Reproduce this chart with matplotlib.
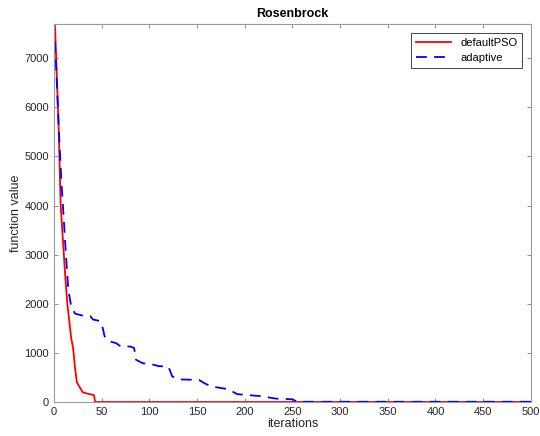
import numpy as np
import matplotlib
matplotlib.use('Agg')
import matplotlib.pyplot as plt

plt.rcParams['font.family'] = ['Liberation Sans', 'DejaVu Sans']

# defaultPSO
iter_pso = [1, 3, 5, 7, 10, 12, 14, 16, 18, 20, 22, 24, 27, 30, 35, 40, 42, 43, 500]
val_pso = [7690, 6600, 5500, 4000, 3100, 2500, 2000, 1650, 1300, 1100, 700, 400,
           300, 200, 170, 150, 140, 0, 0]

# adaptive
iter_ad = [1, 3, 6, 8, 10, 12.5, 15, 18, 22, 30, 38, 41, 48, 50, 53, 58, 65, 70,
           80, 84, 86, 93, 104, 110, 120, 124, 131, 152, 158, 165, 183, 192, 210,
           217, 232, 250, 255, 500]
val_ad = [7340, 6500, 5160, 4400, 3800, 3000, 2290, 1950, 1800, 1760, 1750, 1680,
          1650, 1600, 1340, 1235, 1200, 1130, 1130, 1100, 860, 790, 760, 730, 720,
          520, 460, 450, 380, 315, 260, 160, 130, 120, 70, 55, 5, 5]

fig = plt.figure(figsize=(5.4, 4.36), dpi=100)
ax = fig.add_axes([0.1, 0.078, 0.883, 0.866])
ax.plot(iter_pso, val_pso, color='red', lw=1.3, label='defaultPSO')
ax.plot(iter_ad, val_ad, color='blue', lw=1.3, ls=(0, (6, 4)), label='adaptive')

ax.set_xlim(0, 500)
ax.set_ylim(0, 7690)
ax.set_xticks(np.arange(0, 501, 50))
ax.set_yticks(np.arange(0, 7001, 1000))
ax.tick_params(direction='in', top=True, right=True, labelsize=8, colors='#7a7a7a',
               labelcolor='#262626', length=3, width=0.6)
for s in ax.spines.values():
    s.set_color('#9a9a9a')
    s.set_linewidth(0.8)
ax.set_xlabel('iterations', fontsize=9, labelpad=1, color='#262626')
ax.set_ylabel('function value', fontsize=9, labelpad=2, color='#262626')
ax.set_title('Rosenbrock', fontsize=9, fontweight='bold', pad=5)
leg = ax.legend(loc='upper right', fontsize=8, fancybox=False, framealpha=1,
                edgecolor='#262626', handlelength=3.2, borderaxespad=0.8)
leg.get_frame().set_linewidth(0.6)

fig.savefig('out.png', dpi=100)
